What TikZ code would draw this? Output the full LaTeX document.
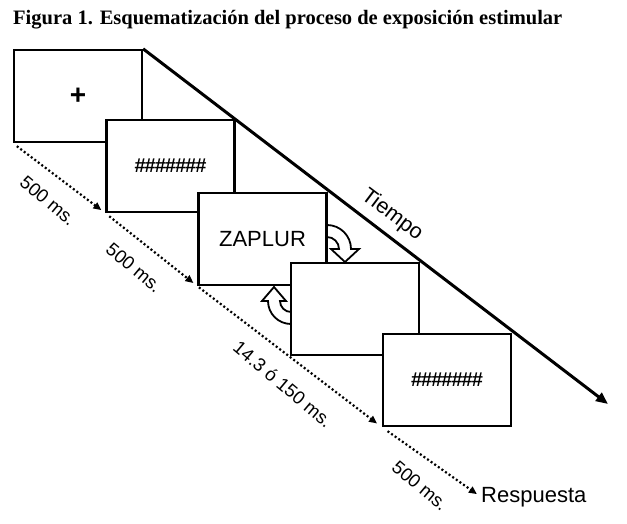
\documentclass[tikz,border=0pt]{standalone}
\usepackage{fontspec}
\setmainfont{Liberation Serif}
\setsansfont{Liberation Sans}
\usetikzlibrary{arrows.meta}

\newcommand{\rejilla}{\#\kern-1pt\#\kern-1pt\#\kern-1pt\#\kern-1pt\#\kern-1pt\#\kern-1pt\#}

\begin{document}
\begin{tikzpicture}[x=1pt,y=-1pt,
  pantalla/.style={draw,line width=2.3pt,fill=white,minimum width=128pt,minimum height=92pt,inner sep=0pt,font=\sffamily\fontsize{22}{26}\selectfont},
  intervalo/.style={line width=2.2pt,dash pattern=on 2pt off 2.4pt,-{Triangle[length=8pt,width=7pt]}},
  eje/.style={line width=3pt,-{Triangle[length=12pt,width=10pt]}},
  etiqueta/.style={font=\sffamily\fontsize{18.5}{22}\selectfont,inner sep=0pt},
  giro/.style={draw,line width=1.8pt,fill=white}]
  \useasboundingbox (0,0) rectangle (627,524);
  % Titulo
  \node[anchor=base west,inner sep=0pt,font=\bfseries\fontsize{20.5}{24}\selectfont] (titulo) at (13,25) {Figura 1. Esquematización del proceso de exposición estimular};
  % Pantallas
  \node[pantalla] (p1) at (78,96) {\fontsize{28}{30}\selectfont\textbf{+}};
  \node[pantalla] (p2) at (170.5,166) {\fontsize{20}{22}\selectfont\bfseries\rejilla};
  \node[pantalla] (p3) at (262.5,239) {ZAPLUR};
  \node[pantalla] (p4) at (355,309) {};
  \node[pantalla] (p5) at (447,380) {\fontsize{20}{22}\selectfont\bfseries\rejilla};
  % Eje del tiempo
  \coordinate (fin) at (608,404);
  \draw[eje] (p1.north east) -- (fin);
  \node[etiqueta,font=\sffamily\fontsize{21.5}{24}\selectfont,rotate=-37] (tiempo) at (392,215) {Tiempo};
  % Flechas curvas
  \draw[giro] (327,225) arc[start angle=270,end angle=360,radius=24] -- (359,249) -- (345,262) -- (331,249) -- (339,249) arc[start angle=0,end angle=-90,radius=12] -- cycle;
  \draw[giro] (291,324) arc[start angle=90,end angle=180,radius=23] -- (262,301) -- (274,287) -- (286,301) -- (280,301) arc[start angle=180,end angle=90,radius=11] -- cycle;
  % Intervalos
  \node[anchor=west,inner sep=0pt,font=\sffamily\fontsize{22}{26}\selectfont] (resp) at (481,497) {Respuesta};
  \draw[intervalo,shorten <=5pt,shorten >=5pt] (p1.south west) -- (p2.south west);
  \draw[intervalo,shorten <=5pt,shorten >=5pt] (p2.south west) -- (p3.south west);
  \draw[intervalo,shorten <=2pt,shorten >=6pt] (p3.south west) -- (p5.south west);
  \draw[intervalo,shorten <=7pt,shorten >=5pt] (p5.south west) -- (resp.west);
  % Etiquetas
  \node[etiqueta,rotate=-40] (t1) at (48,201) {500 ms.};
  \node[etiqueta,rotate=-40] (t2) at (134,268) {500 ms.};
  \node[etiqueta,rotate=-40] (t3) at (283,384) {14.3 ó 150 ms.};
  \node[etiqueta,rotate=-40] (t4) at (420,486) {500 ms.};
\end{tikzpicture}
\end{document}
